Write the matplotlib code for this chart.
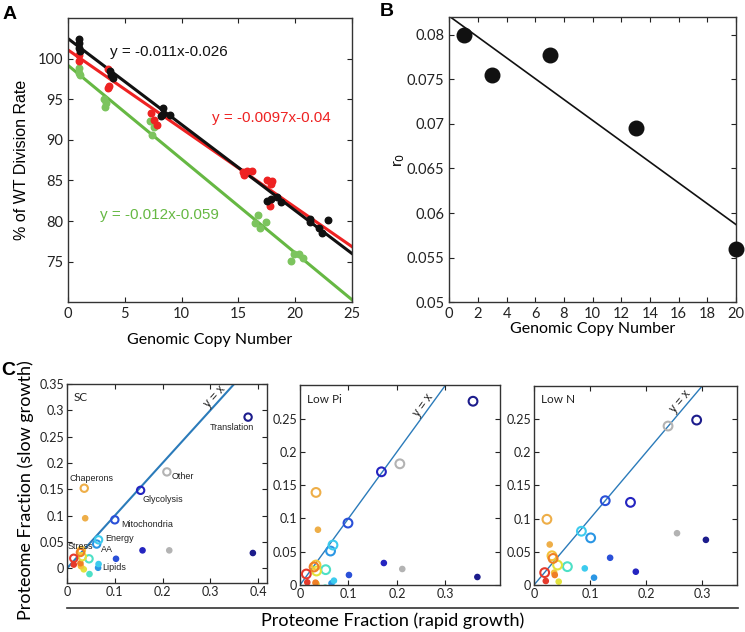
import numpy as np
import matplotlib.pyplot as plt

plt.rcParams['font.family'] = ['Lato', 'DejaVu Sans']

# ---- panel A: division rate vs copy number ----
a_black_x = [0.97, 1.0, 1.0, 1.05, 3.7, 3.97, 3.8, 8.38, 8.4, 8.97, 8.2,
             17.5, 17.9, 18.4, 18.8, 21.3, 21.3, 22.1, 22.4, 22.9]
a_black_y = [102.4, 101.9, 101.4, 101.0, 98.5, 97.7, 98.0, 94.0, 93.2, 93.1, 93.0,
             82.5, 82.7, 83.0, 82.4, 80.3, 79.9, 79.2, 78.5, 80.1]
a_red_x = [0.97, 1.0, 3.53, 3.6, 3.5, 7.35, 7.56, 7.85,
           15.4, 15.8, 16.2, 15.5, 17.5, 17.9, 18.0, 17.8]
a_red_y = [99.7, 100.5, 98.8, 96.7, 96.4, 93.3, 92.5, 91.9,
           86.0, 86.2, 86.2, 85.7, 85.1, 84.6, 84.9, 81.8]
a_green_x = [0.94, 0.94, 1.03, 3.18, 3.32, 3.26, 7.2, 7.56, 7.44,
             16.7, 16.5, 16.9, 17.4, 19.6, 19.9, 20.3, 20.7]
a_green_y = [98.9, 98.3, 98.0, 95.0, 94.6, 94.1, 92.3, 91.6, 90.6,
             80.8, 79.8, 79.2, 79.9, 75.1, 75.9, 75.9, 75.5]
a_fit_x = [0, 25]
a_fit_black = [102.5, 76.0]
a_fit_red = [101.1, 76.85]
a_fit_green = [99.2, 70.3]
a_eq_black = "y = -0.011x-0.026"
a_eq_red = "y = -0.0097x-0.04"
a_eq_green = "y = -0.012x-0.059"

# ---- panel B: r0 vs copy number ----
b_copy = [1, 3, 7, 13, 20]
b_r0 = [0.0800, 0.0755, 0.0777, 0.0695, 0.0560]
b_fit_x = [0, 20]
b_fit_y = [0.0821, 0.0587]

# ---- panel C: proteome fractions ----
c_cats = ['Translation', 'Glycolysis', 'Mitochondria', 'AA', 'Energy', 'Lipids',
          'Yellow', 'Gold', 'Chaperons', 'Stress', 'Red', 'Other']
c_colors = {'Translation': '#1c1c8c', 'Glycolysis': '#2424c0', 'Mitochondria': '#2a50d8',
            'AA': '#2a96e4', 'Energy': '#3ccbee', 'Lipids': '#4de0c6',
            'Yellow': '#e2e23c', 'Gold': '#f4c23a', 'Chaperons': '#eeae48',
            'Stress': '#ef7f25', 'Red': '#e53a2c', 'Other': '#b3b3b3'}

sc_open_x = [0.379, 0.154, 0.100, 0.062, 0.066, 0.046, 0.032, 0.030, 0.036, 0.028, 0.014, 0.209]
sc_open_y = [0.287, 0.148, 0.092, 0.046, 0.054, 0.018, 0.022, 0.034, 0.152, 0.030, 0.019, 0.183]
sc_fill_x = [0.389, 0.158, 0.1025, 0.065, 0.066, 0.047, 0.035, 0.029, 0.038, 0.028, 0.014, 0.214]
sc_fill_y = [0.029, 0.034, 0.018, 0.001, 0.008, -0.011, -0.002, 0.004, 0.095, 0.0095, 0.007, 0.034]

pi_open_x = [0.357, 0.168, 0.099, 0.063, 0.068, 0.053, 0.034, 0.033, 0.033, 0.029, 0.013, 0.206]
pi_open_y = [0.276, 0.170, 0.093, 0.051, 0.060, 0.023, 0.021, 0.030, 0.139, 0.027, 0.0165, 0.182]
pi_fill_x = [0.366, 0.173, 0.101, 0.065, 0.070, 0.052, 0.034, 0.033, 0.037, 0.032, 0.015, 0.211]
pi_fill_y = [0.012, 0.033, 0.015, 0.0025, 0.0065, -0.004, 0.0015, 0.002, 0.083, 0.0035, 0.004, 0.024]

n_open_x = [0.290, 0.172, 0.127, 0.101, 0.0845, 0.0595, 0.042, 0.032, 0.023, 0.034, 0.019, 0.239]
n_open_y = [0.2485, 0.1245, 0.127, 0.071, 0.081, 0.0276, 0.030, 0.044, 0.099, 0.040, 0.0186, 0.2395]
n_fill_x = [0.3065, 0.1815, 0.1357, 0.107, 0.0905, 0.060, 0.044, 0.036, 0.028, 0.037, 0.021, 0.255]
n_fill_y = [0.068, 0.020, 0.041, 0.011, 0.025, -0.005, 0.005, 0.0186, 0.061, 0.015, 0.006, 0.078]

sc_labels = [('Translation', 0.298, 0.267), ('Other', 0.219, 0.174), ('Glycolysis', 0.157, 0.130),
             ('Mitochondria', 0.113, 0.084), ('Chaperons', 0.005, 0.171), ('Energy', 0.0795, 0.0557),
             ('AA', 0.070, 0.036), ('Stress', 0.001, 0.041), ('Lipids', 0.0745, 0.002)]


def box_style(ax, size):
    ax.tick_params(direction='in', top=True, right=True, length=3.5, width=0.8,
                   labelsize=size, colors='#222222')
    for s in ax.spines.values():
        s.set_color('#333333')
        s.set_linewidth(1.0)


fig = plt.figure(figsize=(7.45, 6.32), dpi=100)

# panel A
ax = fig.add_axes([0.0913, 0.522, 0.381, 0.449])
ax.plot(a_fit_x, a_fit_green, color='#66b843', lw=2.2)
ax.plot(a_fit_x, a_fit_red, color='#ee2222', lw=2.2)
ax.plot(a_fit_x, a_fit_black, color='#111111', lw=2.2)
ax.scatter(a_green_x, a_green_y, s=22, color='#7cc45e', zorder=3)
ax.scatter(a_red_x, a_red_y, s=22, color='#ee2222', zorder=3)
ax.scatter(a_black_x, a_black_y, s=22, color='#111111', zorder=3)
ax.text(3.7, 100.8, a_eq_black, color='#111111', fontsize=11, va='center', family='Liberation Sans')
ax.text(12.65, 92.7, a_eq_red, color='#ee2222', fontsize=11, va='center', family='Liberation Sans')
ax.text(2.8, 80.8, a_eq_green, color='#66b843', fontsize=11, va='center', family='Liberation Sans')
ax.set_xlim(0, 25)
ax.set_ylim(70, 105)
ax.set_xticks(np.arange(0, 26, 5))
ax.set_yticks(np.arange(75, 101, 5))
box_style(ax, 10.5)
ax.set_xlabel('Genomic Copy Number', fontsize=11.5, labelpad=9)
ax.set_ylabel('% of WT Division Rate', fontsize=11.5, family='Liberation Sans', labelpad=6)

# panel B
ax = fig.add_axes([0.603, 0.522, 0.385, 0.451])
ax.plot(b_fit_x, b_fit_y, color='#111111', lw=1.2)
ax.scatter(b_copy, b_r0, s=110, color='#111111', zorder=3, clip_on=False)
ax.set_xlim(0, 20)
ax.set_ylim(0.05, 0.082)
ax.set_xticks(np.arange(0, 21, 2))
ax.set_yticks(np.arange(0.05, 0.0801, 0.005))
ax.set_yticklabels(['%g' % v for v in np.arange(0.05, 0.0801, 0.005).round(3)])
box_style(ax, 10.5)
ax.set_xlabel('Genomic Copy Number', fontsize=11.5, labelpad=1)
ax.set_ylabel('r$_0$', fontsize=11.5, labelpad=0)

# panel C
c_axes = [
    ([0.090, 0.0775, 0.268, 0.315], 'SC', sc_open_x, sc_open_y, sc_fill_x, sc_fill_y,
     (0, 0.418), (-0.028, 0.35), np.arange(0, 0.41, 0.1), np.arange(0, 0.351, 0.05), (0.318, 0.318), 1.5, 28),
    ([0.4027, 0.0744, 0.268, 0.316], 'Low Pi', pi_open_x, pi_open_y, pi_fill_x, pi_fill_y,
     (0, 0.412), (0, 0.3), np.arange(0, 0.31, 0.1), np.arange(0, 0.251, 0.05), (0.265, 0.265), 1.0, 40),
    ([0.7168, 0.0744, 0.2725, 0.315], 'Low N', n_open_x, n_open_y, n_fill_x, n_fill_y,
     (0, 0.362), (0, 0.3), np.arange(0, 0.31, 0.1), np.arange(0, 0.251, 0.05), (0.27, 0.27), 1.0, 40),
]
for rect, title, ox, oy, fx, fy, xl, yl, xt, yt, txy, lw, ms in c_axes:
    ax = fig.add_axes(rect)
    ax.plot([0, 0.5], [0, 0.5], color='#2b7bba', lw=lw, zorder=1)
    cols = [c_colors[c] for c in c_cats]
    ax.scatter(fx, fy, s=14, color=cols, zorder=2)
    ax.scatter(ox, oy, s=ms, facecolors='none', edgecolors=cols, linewidths=1.5, zorder=3)
    ax.text(txy[0], txy[1], 'y = x', rotation=45, rotation_mode='anchor', transform_rotates_text=True,
            ha='center', va='bottom', fontsize=8.5, family='Liberation Sans', color='#222222')
    ax.text(0.035, 0.93, title, transform=ax.transAxes, fontsize=8.5, va='center', color='#222222')
    ax.set_xlim(*xl)
    ax.set_ylim(*yl)
    ax.set_xticks(xt)
    ax.set_xticklabels(['%g' % v for v in xt.round(2)])
    ax.set_yticks(yt)
    ax.set_yticklabels(['%g' % v for v in yt.round(2)])
    box_style(ax, 9)
    ax.tick_params(pad=2)
    if title == 'SC':
        for name, tx, ty in sc_labels:
            ax.text(tx, ty, name, fontsize=6.5, family='Liberation Sans', va='center', color='#222222')

fig.add_artist(plt.Line2D([0.09, 0.99], [0.038, 0.038], color='#333333', lw=1.2))
fig.text(0.527, 0.018, 'Proteome Fraction (rapid growth)', fontsize=13, ha='center', va='center')
fig.text(0.034, 0.225, 'Proteome Fraction (slow growth)', fontsize=13, rotation=90, ha='center', va='center')

fig.text(0.003, 0.99, 'A', fontsize=14, fontweight='bold', va='top', family='Liberation Sans')
fig.text(0.510, 0.995, 'B', fontsize=14, fontweight='bold', va='top', family='Liberation Sans')
fig.text(0.002, 0.428, 'C', fontsize=14, fontweight='bold', va='top', family='Liberation Sans')

fig.savefig('out.png', dpi=100)
